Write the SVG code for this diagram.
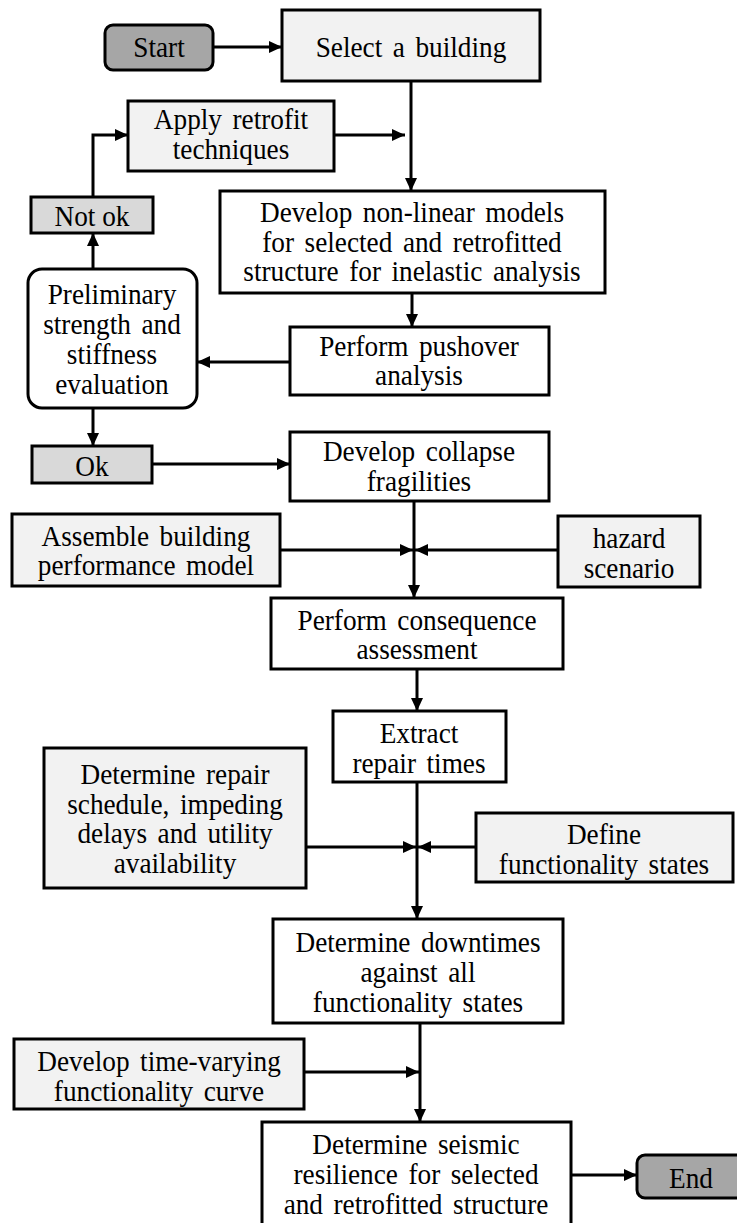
<svg xmlns="http://www.w3.org/2000/svg" width="737" height="1223" viewBox="0 0 737 1223">
<style>
.box{stroke:#000;stroke-width:3;fill:#fff}
.lt{fill:#f2f2f2}
.md{fill:#d9d9d9}
.dk{fill:#a6a6a6}
text{font-family:"Liberation Serif","Times New Roman",serif;font-size:29px;fill:#000;text-anchor:middle;word-spacing:4px}
.conn path{fill:none;stroke:#000;stroke-width:3;marker-end:url(#ah)}
</style>
<defs>
<marker id="ah" markerUnits="userSpaceOnUse" markerWidth="13" markerHeight="12" viewBox="0 0 13 12" refX="13" refY="6" orient="auto">
<path d="M0,0 L13,6 L0,12 z" fill="#000"/>
</marker>
</defs>
<rect width="737" height="1223" fill="#fff"/>
<g class="conn">
<path d="M213,47 H282"/>
<path d="M411,81 V191"/>
<path d="M334,135 H405"/>
<path d="M412,293 V327"/>
<path d="M290,362 H197"/>
<path d="M93,269 V233"/>
<path d="M93,197 V135 H128"/>
<path d="M93,408 V446"/>
<path d="M152,464 H290"/>
<path d="M414,501 V598"/>
<path d="M280,550 H413"/>
<path d="M558,550 H415"/>
<path d="M417,669 V711"/>
<path d="M417,782 V919"/>
<path d="M306,847 H416"/>
<path d="M476,847 H418"/>
<path d="M420,1023 V1122"/>
<path d="M304,1072 H419"/>
<path d="M571,1175 H637"/>
</g>
<g id="start"><rect class="box dk" x="105" y="25" width="108" height="45" rx="8"/><g transform="translate(159,0) scale(0.94,1)"><text x="0" y="57">Start</text></g></g>
<g id="select"><rect class="box lt" x="282" y="10" width="258" height="71"/><g transform="translate(411,0) scale(0.94,1)"><text x="0" y="57">Select a building</text></g></g>
<g id="apply"><rect class="box lt" x="128" y="101" width="206" height="70"/><g transform="translate(231,0) scale(0.94,1)"><text x="0" y="129">Apply retrofit</text><text x="0" y="159">techniques</text></g></g>
<g id="notok"><rect class="box md" x="31" y="197" width="122" height="36"/><g transform="translate(92,0) scale(0.94,1)"><text x="0" y="226" style="word-spacing:0">Not ok</text></g></g>
<g id="develop-models"><rect class="box" x="220" y="191" width="385" height="102"/><g transform="translate(412,0) scale(0.94,1)"><text x="0" y="222">Develop non-linear models</text><text x="0" y="252">for selected and retrofitted</text><text x="0" y="281">structure for inelastic analysis</text></g></g>
<g id="prelim"><rect class="box" x="28" y="269" width="169" height="139" rx="14"/><g transform="translate(112,0) scale(0.94,1)"><text x="0" y="304">Preliminary</text><text x="0" y="334">strength and</text><text x="0" y="364">stiffness</text><text x="0" y="394">evaluation</text></g></g>
<g id="pushover"><rect class="box" x="290" y="327" width="259" height="68"/><g transform="translate(419,0) scale(0.94,1)"><text x="0" y="356">Perform pushover</text><text x="0" y="385">analysis</text></g></g>
<g id="ok"><rect class="box md" x="32" y="446" width="120" height="37"/><g transform="translate(92,0) scale(0.94,1)"><text x="0" y="476">Ok</text></g></g>
<g id="collapse"><rect class="box" x="290" y="432" width="259" height="69"/><g transform="translate(419,0) scale(0.94,1)"><text x="0" y="461">Develop collapse</text><text x="0" y="491">fragilities</text></g></g>
<g id="assemble"><rect class="box lt" x="12" y="514" width="268" height="72"/><g transform="translate(146,0) scale(0.94,1)"><text x="0" y="546">Assemble building</text><text x="0" y="575">performance model</text></g></g>
<g id="hazard"><rect class="box lt" x="558" y="516" width="142" height="71"/><g transform="translate(629,0) scale(0.94,1)"><text x="0" y="548">hazard</text><text x="0" y="578">scenario</text></g></g>
<g id="consequence"><rect class="box" x="271" y="598" width="292" height="71"/><g transform="translate(417,0) scale(0.94,1)"><text x="0" y="630">Perform consequence</text><text x="0" y="659">assessment</text></g></g>
<g id="extract"><rect class="box" x="333" y="711" width="173" height="71"/><g transform="translate(419,0) scale(0.94,1)"><text x="0" y="743">Extract</text><text x="0" y="773">repair times</text></g></g>
<g id="repair"><rect class="box lt" x="44" y="748" width="262" height="140"/><g transform="translate(175,0) scale(0.94,1)"><text x="0" y="784">Determine repair</text><text x="0" y="814">schedule, impeding</text><text x="0" y="843">delays and utility</text><text x="0" y="873">availability</text></g></g>
<g id="define"><rect class="box lt" x="476" y="813" width="257" height="69"/><g transform="translate(604,0) scale(0.94,1)"><text x="0" y="844">Define</text><text x="0" y="874">functionality states</text></g></g>
<g id="downtimes"><rect class="box" x="273" y="919" width="290" height="104"/><g transform="translate(418,0) scale(0.94,1)"><text x="0" y="952">Determine downtimes</text><text x="0" y="982">against all</text><text x="0" y="1012">functionality states</text></g></g>
<g id="timevarying"><rect class="box lt" x="14" y="1039" width="290" height="70"/><g transform="translate(159,0) scale(0.94,1)"><text x="0" y="1071">Develop time-varying</text><text x="0" y="1101">functionality curve</text></g></g>
<g id="seismic"><rect class="box" x="262" y="1122" width="309" height="110"/><g transform="translate(416,0) scale(0.94,1)"><text x="0" y="1154">Determine seismic</text><text x="0" y="1184">resilience for selected</text><text x="0" y="1214">and retrofitted structure</text></g></g>
<g id="end"><rect class="box dk" x="637" y="1155" width="115" height="43" rx="8"/><g transform="translate(691,0) scale(0.94,1)"><text x="0" y="1188">End</text></g></g>
</svg>
